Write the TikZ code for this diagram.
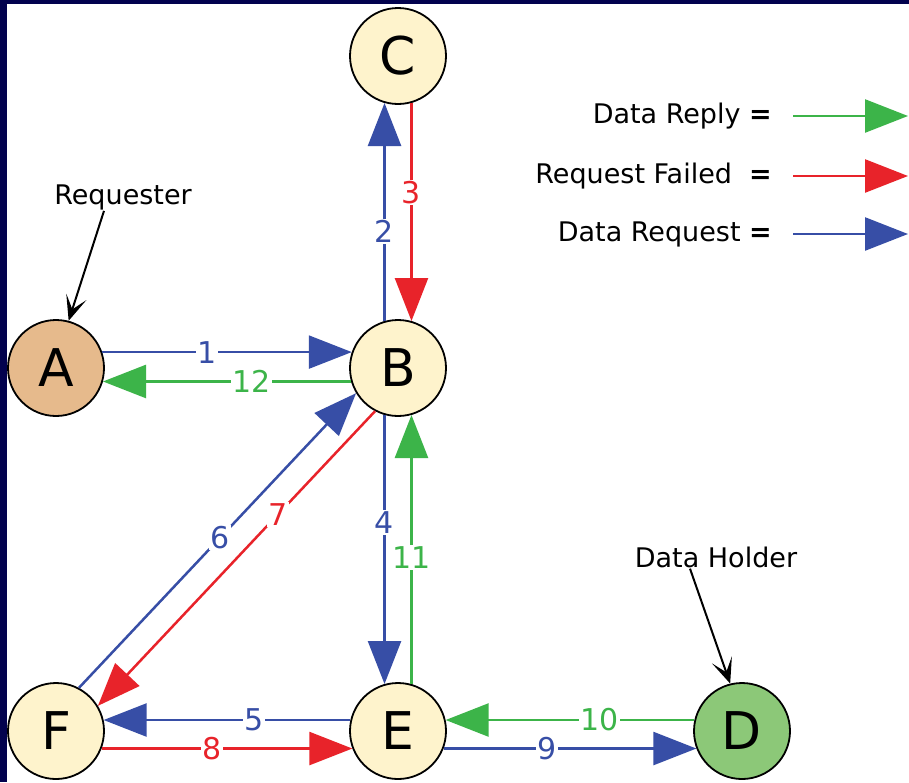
\documentclass[tikz,border=0pt]{standalone}
\usepackage{fontspec}
\setmainfont{DejaVu Sans}
\usetikzlibrary{arrows.meta}
\definecolor{framenavy}{RGB}{2,2,78}
\definecolor{peerfill}{RGB}{254,243,204}
\definecolor{askfill}{RGB}{230,186,140}
\definecolor{holdfill}{RGB}{140,200,120}
\definecolor{reqblue}{RGB}{55,78,166}
\definecolor{repgreen}{RGB}{60,180,73}
\definecolor{failred}{RGB}{232,35,42}
\tikzset{
  peer/.style   = {circle, draw=black, line width=1.8pt, fill=peerfill,
                   minimum size=96pt, inner sep=0pt,
                   font=\fontsize{52}{52}\selectfont},
  ar/.style     = {-{Triangle[length=43pt, width=33pt]}, line width=2.5pt},
  reqar/.style  = {ar, color=reqblue},
  repar/.style  = {ar, color=repgreen},
  failar/.style = {ar, color=failred},
  num/.style    = {fill=white, inner sep=1.5pt, font=\fontsize{30}{30}\selectfont},
  note/.style   = {inner sep=1pt, font=\fontsize{27}{28}\selectfont},
  notear/.style = {-{Stealth[length=25pt, width=21pt, inset=13pt]},
                   line width=2pt, draw=black}
}
\begin{document}
\begin{tikzpicture}[x=1pt, y=-1pt]
    % frame
    \useasboundingbox (0,0) rectangle (909,782);
    \fill[framenavy] (0,0) rectangle (909,782);
    \fill[white] (7,4) rectangle (909,782);

    % stations
    \node[peer] (C) at (398,56) {C};
    \node[peer] (B) at (398,368) {B};
    \node[peer, fill=askfill] (A) at (56,368) {A};
    \node[peer] (F) at (56,731) {F};
    \node[peer] (E) at (398,731) {E};
    \node[peer, fill=holdfill] (D) at (742,731) {D};

    % messages
    \draw[reqar] (A.19) -- node[num, pos=0.42] {1} (B.161);
    \draw[reqar] (B.106) -- node[num, pos=0.41] {2} (C.254);
    \draw[failar] (C.286) -- node[num, pos=0.41] {3} (B.74);
    \draw[reqar] (B.254) -- node[num, pos=0.40] {4} (E.106);
    \draw[reqar] (E.167) -- node[num, pos=0.39] {5} (F.13);
    \draw[reqar] (F.62) -- node[num, pos=0.51] {6} (B.211);
    \draw[failar] (B.242) -- node[num, pos=0.35] {7} (F.31);
    \draw[failar] (F.-21) -- node[num, pos=0.44] {8} (E.201);
    \draw[reqar] (E.-21) -- node[num, pos=0.41] {9} (D.201);
    \draw[repar] (D.167) -- node[num, pos=0.38] {10} (E.13);
    \draw[repar] (E.74) -- node[num, pos=0.47] {11} (B.286);
    \draw[repar] (B.196) -- node[num, pos=0.40] {12} (A.-16);

    % roles
    \node[note] (ask) at (123,197) {Requester};
    \node[note] (hold) at (716,557) {Data Holder};
    \draw[notear] ([xshift=-19pt]ask.south) -- (A.75);
    \draw[notear] ([xshift=-26pt]hold.south) -- (D.104);

    % legend
    \node[note, anchor=east] (lrep) at (773,116) {Data Reply \textbf{=}};
    \node[note, anchor=east] (lfail) at (773,176) {Request Failed\ \ \textbf{=}};
    \node[note, anchor=east] (lreq) at (773,234) {Data Request \textbf{=}};
    \coordinate (erep) at (908,116);
    \coordinate (efail) at (908,176);
    \coordinate (ereq) at (908,234);
    \draw[repar] ([xshift=20pt]lrep.east) -- (erep);
    \draw[failar] ([xshift=20pt]lfail.east) -- (efail);
    \draw[reqar] ([xshift=20pt]lreq.east) -- (ereq);
\end{tikzpicture}
\end{document}
